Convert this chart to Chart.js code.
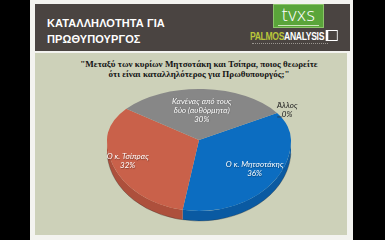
<!DOCTYPE html>
<html>
<head>
<meta charset="utf-8">
<script src="https://cdn.jsdelivr.net/npm/chart.js@4/dist/chart.umd.min.js"></script>
<style>
  html, body { margin: 0; padding: 0; background: #000; width: 385px; height: 240px; overflow: hidden; }
  #slide { position: absolute; left: 30px; top: 0; width: 323px; height: 240px; background: #f3f3ef; }
  #header { position: absolute; left: 35px; top: 4px; width: 315px; height: 47px; background: #4a4441; }
  #content { position: absolute; left: 35px; top: 53px; width: 312px; height: 182px; background: #cdd1b9; }
  #title { position: absolute; left: 47px; top: 15px; color: #fff; font: bold 11px "Liberation Sans", Arial, sans-serif; line-height: 16px; letter-spacing: 0.1px; }
  #tvxs { position: absolute; left: 273px; top: 4px; width: 51px; height: 24px; background: #5aa53a; border: 1px solid #8cc46a; box-sizing: border-box; color: #fff; text-align: center; font: 300 18px "Open Sans", sans-serif; line-height: 19px; letter-spacing: 0.5px; }
  #tvxs small { position: absolute; left: 4px; right: 4px; bottom: 1px; height: 1px; background: #cfe6bd; }
  #palmos { position: absolute; left: 250px; top: 30px; white-space: nowrap; font: bold 10px "Liberation Sans", sans-serif; line-height: 12px; letter-spacing: -0.4px; transform: scaleX(0.86); transform-origin: 0 0; }
  #palmos .p { color: #b9c63a; }
  #palmos .a { color: #fff; }
  #palmos .box { display: inline-block; width: 10px; height: 9px; border: 1.5px solid #fff; border-left-width: 3px; vertical-align: -1px; margin-left: 2px; }
  #tag { position: absolute; left: 252px; top: 43px; width: 76px; height: 1px; border-top: 1px dotted #9a9590; }
  #question { position: absolute; left: 35px; top: 59px; width: 328px; text-align: center; color: #141414; font: bold 9px "Liberation Serif", serif; line-height: 10px; }
  canvas { position: absolute; left: 0; top: 0; }
</style>
</head>
<body>
<div id="slide"></div>
<div id="header"></div>
<div id="content"></div>
<div id="title">ΚΑΤΑΛΛΗΛΟΤΗΤΑ ΓΙΑ<br>ΠΡΩΘΥΠΟΥΡΓΟΣ</div>
<div id="tvxs">tvxs<small></small></div>
<div id="palmos"><span class="p">PALMOS</span><span class="a">ANALYSIS</span><span class="box"></span></div>
<div id="tag"></div>
<div id="question">"Μεταξύ των κυρίων Μητσοτάκη και Τσίπρα, ποιος θεωρείτε<br>ότι είναι καταλληλότερος για Πρωθυπουργός;"</div>
<canvas id="pie" width="385" height="240"></canvas>
<script>
// Answers and their shares (%)
const categories = [
  ['Ο κ. Μητσοτάκης'],
  ['Ο κ. Τσίπρας'],
  ['Κανένας από τους', 'δύο (αυθόρμητα)'],
  ['Άλλος']
];
const shares = [36, 32, 30, 0];

const faceColors = ['#0c6dc1', '#c9614a', '#878787', '#6a9a3a'];
const sideColors = ['#0a5aa2', '#ad503c', '#6a6a6a', '#4e7a2a'];

// Tilted look: the far half of the disc is flattened more than the near half
const TILT_TOP = 51 / 92;
const TILT_BOTTOM = 71 / 92;
const DEPTH = 10;

// Where each label sits, as a fraction of the radius along the slice's middle
const labelRadius = [0.73, 0.83, 0.59, 1.13];
const labelColor = ['#ffffff', '#ffffff', '#ffffff', '#222222'];

function tiltY(cy, dy) {
  return cy + dy * (dy < 0 ? TILT_TOP : TILT_BOTTOM);
}

const tiltedPie = {
  id: 'tiltedPie',
  beforeDatasetsDraw(chart) {
    const ctx = chart.ctx;
    const arcs = chart.getDatasetMeta(0).data;
    const { x: cx, y: cy, outerRadius: R } = arcs[0];
    const bB = R * TILT_BOTTOM;

    // Visible rim on the near half of the disc
    arcs.forEach((arc, i) => {
      const s = arc.startAngle, e = arc.endAngle;
      if (e - s <= 0) return;
      [0, 2 * Math.PI, -2 * Math.PI].forEach(k => {
        const a1 = Math.max(s, k), a2 = Math.min(e, k + Math.PI);
        if (a2 <= a1) return;
        ctx.save();
        ctx.beginPath();
        ctx.ellipse(cx, cy + DEPTH, R, bB, 0, a1, a2, false);
        ctx.ellipse(cx, cy, R, bB, 0, a2, a1, true);
        ctx.closePath();
        ctx.fillStyle = sideColors[i];
        ctx.fill();
        ctx.restore();
      });
    });
    ctx.save();
    ctx.beginPath();
    ctx.ellipse(cx, cy + DEPTH, R, bB, 0, 0.05, Math.PI - 0.05, false);
    ctx.strokeStyle = 'rgba(40,40,40,0.3)';
    ctx.lineWidth = 1;
    ctx.stroke();
    ctx.restore();

    // Top face: far half and near half, each with its own flattening
    [[-1, TILT_TOP], [1, TILT_BOTTOM]].forEach(([side, f]) => {
      ctx.save();
      ctx.beginPath();
      if (side < 0) ctx.rect(0, 0, chart.width, cy);
      else ctx.rect(0, cy, chart.width, chart.height - cy);
      ctx.clip();
      ctx.translate(cx, cy);
      ctx.scale(1, f);
      ctx.translate(-cx, -cy);
      arcs.forEach(arc => arc.draw(ctx));
      ctx.restore();
    });
    return false;
  },
  afterDraw(chart) {
    const ctx = chart.ctx;
    const arcs = chart.getDatasetMeta(0).data;
    const labels = chart.data.labels;
    const values = chart.data.datasets[0].data;
    arcs.forEach((arc, i) => {
      const { x: cx, y: cy, outerRadius: R } = arc;
      const mid = (arc.startAngle + arc.endAngle) / 2;
      const r = R * labelRadius[i];
      const x = cx + r * Math.cos(mid);
      const y = tiltY(cy, r * Math.sin(mid));
      const lines = labels[i].concat([values[i] + '%']);
      ctx.save();
      ctx.font = 'italic 8px Lato, "Open Sans", sans-serif';
      ctx.textAlign = 'center';
      ctx.textBaseline = 'middle';
      ctx.fillStyle = labelColor[i];
      if (labelColor[i] === '#ffffff') {
        ctx.shadowColor = 'rgba(0,0,0,0.35)';
        ctx.shadowOffsetX = 0.5;
        ctx.shadowOffsetY = 0.5;
        ctx.shadowBlur = 1;
      }
      const lh = 9;
      const y0 = y - (lines.length - 1) * lh / 2;
      lines.forEach((t, j) => ctx.fillText(t, x, y0 + j * lh));
      if (labelRadius[i] > 1) {
        // short leader under the value of the outside label
        ctx.shadowColor = 'transparent';
        ctx.strokeStyle = '#333';
        ctx.lineWidth = 0.7;
        ctx.beginPath();
        ctx.moveTo(x - 10, y0 + lh + 3);
        ctx.lineTo(x - 5, y0 + lh + 3);
        ctx.stroke();
      }
      ctx.restore();
    });
  }
};

new Chart(document.getElementById('pie'), {
  type: 'pie',
  data: {
    labels: categories,
    datasets: [{
      data: shares,
      backgroundColor: faceColors,
      borderWidth: 0
    }]
  },
  options: {
    responsive: false,
    animation: false,
    events: [],
    rotation: 58,
    layout: { padding: { left: 107, right: 94, top: 48, bottom: 8 } },
    plugins: { legend: { display: false }, tooltip: { enabled: false } }
  },
  plugins: [tiltedPie]
});
</script>
</body>
</html>
